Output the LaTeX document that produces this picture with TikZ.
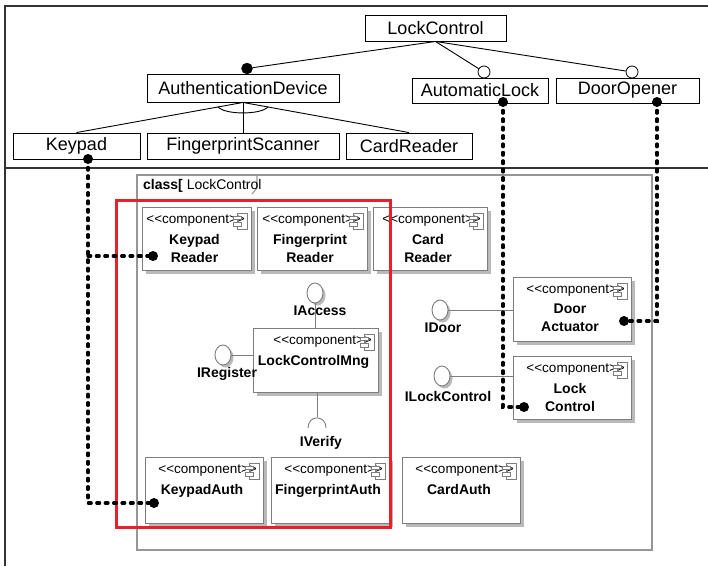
\documentclass[tikz,border=0pt]{standalone}
\usepackage{fontspec}
\setmainfont{Liberation Sans}[Ligatures=TeXOff]
\usetikzlibrary{shapes.geometric,shadows}

\definecolor{redframe}{RGB}{232,32,42}
\definecolor{compline}{RGB}{125,125,125}
\definecolor{compshadow}{RGB}{185,185,185}
\definecolor{framegray}{RGB}{150,150,150}

\tikzset{
  feat/.style={draw=black, line width=0.9pt, inner sep=0pt, font=\fontsize{18}{20}\selectfont},
  fline/.style={draw=black, line width=0.9pt},
  fdot/.style={circle, fill=black, draw=black, inner sep=0pt, minimum size=11pt},
  odot/.style={circle, fill=white, draw=black, line width=0.8pt, inner sep=0pt, minimum size=12pt},
  bind/.style={line width=3.2pt, line cap=round, dash pattern=on 2.8pt off 5.6pt},
  bdot/.style={circle, fill=black, inner sep=0pt, minimum size=10pt},
  cbox/.style={draw=compline, fill=white, line width=0.9pt, inner sep=0pt, outer sep=0pt,
    drop shadow={shadow xshift=3.5pt, shadow yshift=-3.5pt, fill=compshadow, opacity=1}},
  stereo/.style={font=\fontsize{13.5}{16}\selectfont, inner sep=0pt},
  cname/.style={font=\fontsize{14}{18}\selectfont\bfseries, align=center, inner sep=0pt},
  cicon/.style={draw=compline, line width=0.7pt},
  iface/.style={ellipse, draw=compline, fill=white, line width=0.9pt, inner sep=0pt,
    minimum width=16pt, minimum height=20pt,
    drop shadow={shadow xshift=2.5pt, shadow yshift=-2.5pt, fill=compshadow, opacity=1}},
  ilabel/.style={font=\fontsize{14}{16}\selectfont\bfseries, inner sep=0pt},
  wire/.style={draw=compline, line width=0.9pt},
  outerframe/.style={draw=black!80, line width=2pt},
  classframe/.style={draw=framegray, line width=1.1pt},
}

% component box: name, x1, y1, x2, y2, title
\newcommand\compbox[6]{%
  \node[cbox, anchor=north west, minimum width=#4-#2, minimum height=#5-#3] (#1) at (#2,#3) {};
  \node[stereo, anchor=east] (#1-st) at ([xshift=-6pt,yshift=-13.5pt]#1.north east) {<\kern0pt<component>\kern0pt>};
  \draw[cicon] ([xshift=-14pt,yshift=-6pt]#1.north east) rectangle ([xshift=-4pt,yshift=-22pt]#1.north east);
  \draw[cicon, fill=white] ([xshift=-18pt,yshift=-9pt]#1.north east) rectangle ([xshift=-10pt,yshift=-12.5pt]#1.north east);
  \draw[cicon, fill=white] ([xshift=-18pt,yshift=-15.5pt]#1.north east) rectangle ([xshift=-10pt,yshift=-19pt]#1.north east);
  \node[cname, anchor=north] (#1-nm) at ([xshift=-2pt,yshift=-27pt]#1.north) {#6};
}

\begin{document}
\begin{tikzpicture}[x=1pt, y=-1pt]
\useasboundingbox (0,0) rectangle (708,566);

% outer frame and divider
\draw[outerframe] (5,566) -- (5,6) -- (708,6);
\draw[outerframe] (5,168) -- (708,168);

% feature tree
\node[feat, minimum width=141pt, minimum height=26pt] (lc) at (435.5,28) {LockControl};
\node[feat, minimum width=192pt, minimum height=28pt] (ad) at (243,88) {AuthenticationDevice};
\node[feat, minimum width=136pt, minimum height=25pt] (al) at (480,90.5) {AutomaticLock};
\node[feat, minimum width=143pt, minimum height=25pt] (dop) at (627.5,90.5) {DoorOpener};
\node[feat, minimum width=127pt, minimum height=26pt] (kp) at (76.5,146) {Keypad};
\node[feat, minimum width=192pt, minimum height=26pt] (fs) at (243,146) {FingerprintScanner};
\node[feat, minimum width=126pt, minimum height=26pt] (cdr) at (409,146) {CardReader};

\node[fdot] (adm) at (247,68.5) {};
\node[odot] (alo) at (484,72) {};
\node[odot] (dpo) at (632,72) {};
\draw[fline] (lc.south) -- (adm);
\draw[fline] (lc.south) -- (alo);
\draw[fline] (lc.south) -- (dpo);

\draw[fline] (ad.south) -- (kp.north);
\draw[fline] (ad.south) -- (fs.north);
\draw[fline] (ad.south) -- (cdr.north);
\draw[fline] (218,106.7) .. controls (224,115) and (262,115) .. (268,106.7);

% class frame
\draw[classframe] (137,175) rectangle (652,550);
\draw[classframe] (257,175) -- (257,188) -- (252,194);
\node[anchor=west, inner sep=0pt, font=\fontsize{14}{16}\selectfont] (cls) at (143,186) {\textbf{class[} LockControl};

% components
\compbox{kr}{142}{207}{251}{270}{Keypad\\Reader}
\compbox{fr}{257}{207}{367}{270}{Fingerprint\\Reader}
\compbox{cr}{373}{207}{487}{270}{Card\\Reader}
\compbox{lcm}{253}{328}{378}{392}{LockControlMng}
\compbox{da}{513}{277}{631}{341}{Door\\Actuator}
\compbox{lk}{513}{356}{631}{419}{Lock\\Control}
\compbox{ka}{145}{457}{263}{523}{KeypadAuth}
\compbox{fa}{271}{457}{389}{523}{FingerprintAuth}
\compbox{ca}{402}{457}{520}{523}{CardAuth}

% interfaces
\node[iface] (iacc) at (315,293) {};
\draw[wire] (iacc.south) -- (iacc.south |- lcm.north);
\node[ilabel] (iacc-l) at (320,311) {IAccess};

\node[iface] (ireg) at (223,355) {};
\draw[wire] (ireg.east) -- (ireg.east -| lcm.west);
\node[ilabel] (ireg-l) at (227,374) {IRegister};

\coordinate (ivt) at (317,417);
\draw[wire] (ivt |- lcm.south) -- (ivt);
\draw[wire] (308,428) .. controls (308,414.5) and (326,414.5) .. (326,428);
\node[ilabel] (iver-l) at (321,443) {IVerify};

\node[iface] (idr) at (440,310) {};
\draw[wire] (idr.east) -- (idr.east -| da.west);
\node[ilabel] (idr-l) at (443,328) {IDoor};

\node[iface] (ilc) at (442,376) {};
\draw[wire] (ilc.east) -- (ilc.east -| lk.west);
\node[ilabel] (ilc-l) at (448,396) {ILockControl};

% highlighted region
\draw[redframe, line width=3pt] (116,200) rectangle (390,527);

% feature-to-component bindings
\node[bdot] (kpb) at (88,159) {};
\node[bdot] (krb) at (153,256) {};
\node[bdot] (kab) at (154,503) {};
\coordinate (kpj) at (88,256);
\coordinate (kpc) at (88,503);
\draw[bind] (kpb.center) -- (kpc) -- (kab.center);
\draw[bind] (kpj) -- (krb.center);

\node[bdot] (alb) at (503,102) {};
\node[bdot] (lkb) at (524,407) {};
\draw[bind] (alb.center) |- (lkb.center);

\node[bdot] (dpb) at (657,102) {};
\node[bdot] (dab) at (624,321) {};
\draw[bind] (dpb.center) |- (dab.center);
\end{tikzpicture}
\end{document}
